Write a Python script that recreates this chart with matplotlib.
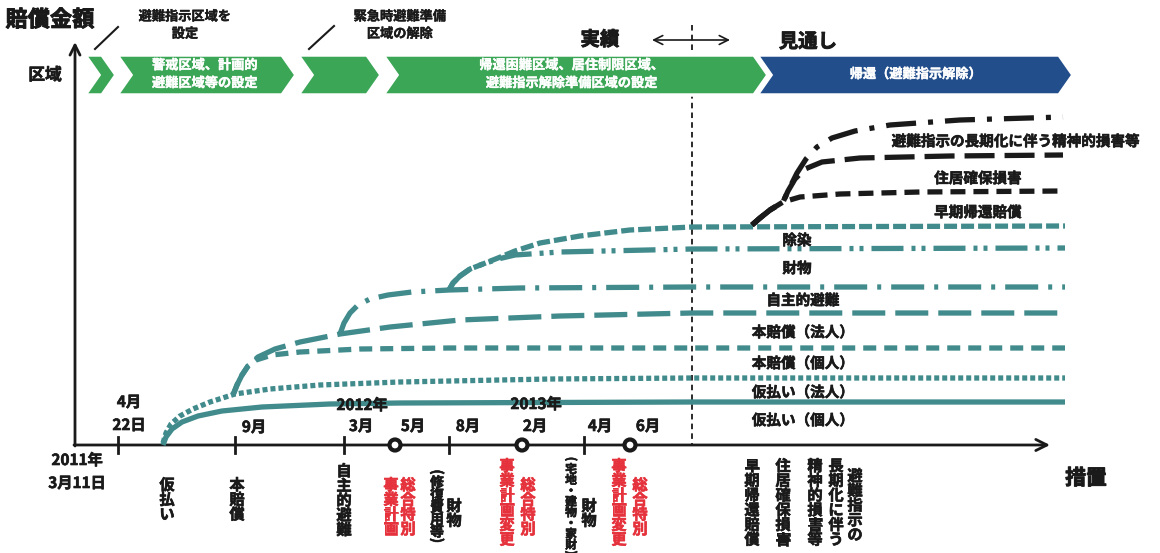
import matplotlib.pyplot as plt
import matplotlib.patheffects as pe
from matplotlib.patches import Polygon, Circle

plt.rcParams['font.family'] = ['Noto Sans CJK JP', 'DejaVu Sans']
plt.rcParams['lines.scale_dashes'] = False

TEAL = '#418b8c'
GREEN = '#3aa656'
NAVY = '#234e8c'
RED = '#e5323c'
INK = '#1a1a1a'

# ---- compensation curves (x, y in image pixels) ----
kari_kojin_x = [163, 166, 172, 182, 198, 222, 262, 330, 400, 692, 1065]
kari_kojin_y = [445, 437, 429, 422, 416, 411, 407, 404, 403, 402, 402]

kari_hojin_x = [163, 166, 171, 180, 193, 210, 235, 270, 320, 400, 550, 692, 1065]
kari_hojin_y = [443, 433, 424, 416, 409, 402, 394, 389, 385, 382, 379, 378, 378]

hon_kojin_x = [233, 237, 242, 248, 256, 272, 300, 360, 450, 692, 1065]
hon_kojin_y = [395, 385, 375, 366, 360, 355, 352, 349, 348, 348, 348]

hon_hojin_x = [233, 237, 242, 248, 258, 275, 300, 340, 390, 460, 560, 692, 1065]
hon_hojin_y = [395, 385, 375, 366, 357, 349, 342, 334, 327, 320, 316, 313, 313]

jishu_x = [340, 344, 350, 358, 370, 388, 412, 449, 520, 692, 1065]
jishu_y = [334, 323, 313, 305, 299, 295, 292, 290, 288, 287, 287]

zaibutsu_x = [449, 453, 460, 470, 483, 498, 515, 560, 692, 1065]
zaibutsu_y = [290, 283, 276, 269, 264, 259, 255, 252, 249, 248]

josen_x = [449, 453, 460, 470, 483, 498, 515, 540, 580, 630, 692, 1065]
josen_y = [290, 283, 276, 269, 264, 258, 251, 243, 236, 230, 227, 226]

soki_x = [752, 760, 770, 783, 800, 840, 920, 1063]
soki_y = [225, 218, 210, 202, 197, 194, 192, 191]

jukyo_x = [752, 760, 770, 783, 788, 795, 805, 822, 860, 950, 1063]
jukyo_y = [225, 218, 210, 202, 191, 179, 169, 162, 158, 156, 155]

seishin_x = [752, 760, 770, 783, 790, 797, 806, 817, 832, 855, 890, 960, 1063]
seishin_y = [225, 218, 210, 202, 187, 173, 159, 147, 138, 131, 125, 120, 117]

# (x, y, colour, dash pattern in px, label, label x, label y)
curves = [
    (kari_kojin_x, kari_kojin_y, TEAL, None, '仮払い（個人）', 803, 420),
    (kari_hojin_x, kari_hojin_y, TEAL, [5, 3], '仮払い（法人）', 803, 392),
    (hon_kojin_x, hon_kojin_y, TEAL, [13, 8], '本賠償（個人）', 803, 363),
    (hon_hojin_x, hon_hojin_y, TEAL, [33, 10], '本賠償（法人）', 803, 332),
    (jishu_x, jishu_y, TEAL, [33, 10, 4, 10], '自主的避難', 803, 300),
    (zaibutsu_x, zaibutsu_y, TEAL, [32, 8, 4, 6, 4, 8], '財物', 797, 268),
    (josen_x, josen_y, TEAL, [13, 4], '除染', 797, 240),
    (soki_x, soki_y, INK, [15, 8], '早期帰還賠償', 978, 212),
    (jukyo_x, jukyo_y, INK, [30, 10], '住居確保損害', 978, 178),
    (seishin_x, seishin_y, INK, [30, 12, 5, 12], '避難指示の長期化に伴う精神的損害等', 1016, 141),
]

# ---- timeline along the horizontal axis ----
tick_x = [118, 235, 344, 449, 584]
circle_x = [395, 522, 630]

date_labels = [
    ('4月', 129, 402), ('22日', 129, 425),
    ('2011年', 77, 460), ('3月11日', 77, 483),
    ('9月', 254, 427),
    ('2012年', 362, 405), ('3月', 361, 426),
    ('5月', 413, 426), ('8月', 468, 426),
    ('2013年', 536, 404), ('2月', 535, 426),
    ('4月', 600, 426), ('6月', 648, 426),
]

# vertical measure labels: (text, column x, top y, colour, font size, line spacing, bracketed)
measure_labels = [
    ('仮払い', 167, 477, INK, 11, 0.9, False),
    ('本賠償', 237, 477, INK, 11, 0.9, False),
    ('自主的避難', 344, 463, INK, 11, 0.9, False),
    ('総合特別', 408, 477, RED, 11, 0.9, False),
    ('事業計画', 391, 477, RED, 11, 0.9, False),
    ('修復費用等', 437, 468, INK, 10, 0.85, True),
    ('財物', 454, 498, INK, 11, 0.9, False),
    ('事業計画変更', 507, 458, RED, 11, 0.9, False),
    ('総合特別', 528, 477, RED, 11, 0.9, False),
    ('宅地・建物・家財', 571, 455, INK, 8.5, 0.78, True),
    ('財物', 589, 498, INK, 11, 0.9, False),
    ('事業計画変更', 619, 458, RED, 11, 0.9, False),
    ('総合特別', 640, 477, RED, 11, 0.9, False),
    ('早期帰還賠償', 752, 458, INK, 11, 0.9, False),
    ('住居確保損害', 783, 458, INK, 11, 0.9, False),
    ('精神的損害等', 815, 458, INK, 11, 0.9, False),
    ('長期化に伴う', 836, 458, INK, 11, 0.9, False),
    ('避難指示の', 855, 468, INK, 11, 0.9, False),
]

# ---- zone band (chevrons): left x, tip x, colour, text, text x ----
zones = [
    (85, 116, GREEN, '', 0),
    (117, 296, GREEN, '警戒区域、計画的\n避難区域等の設定', 205),
    (298, 381, GREEN, '', 0),
    (383, 768, GREEN, '帰還困難区域、居住制限区域、\n避難指示解除準備区域の設定', 572),
    (757, 1073, NAVY, '帰還（避難指示解除）', 916),
]


def heavy(color, w=0.45):
    return [pe.withStroke(linewidth=w, foreground=color)]


fig = plt.figure(figsize=(11.6, 5.53), dpi=100)
ax = fig.add_axes([0, 0, 1, 1])
ax.set_xlim(0, 1160)
ax.set_ylim(553, 0)
ax.axis('off')

# boundary between actual and outlook
ax.plot([692, 692], [25, 445], color=INK, lw=1.3, dashes=[4, 3], zorder=1)

# chevron band
top, bot, mid, notch = 55, 95, 75, 14
for x0, x1, col, txt, tx in zones:
    pts = [(x0, top), (x1 - notch, top), (x1, mid), (x1 - notch, bot),
           (x0, bot), (x0 + notch, mid)]
    ax.add_patch(Polygon(pts, closed=True, facecolor=col, edgecolor='white',
                         lw=2.5, zorder=3))
    if txt:
        ax.text(tx, 74, txt, color='white', fontsize=9.5, fontweight='bold',
                ha='center', va='center', linespacing=1.35, zorder=4,
                path_effects=heavy('white', 0.3))

# axes with arrows
ax.annotate('', xy=(75, 42), xytext=(75, 446),
            arrowprops=dict(arrowstyle='->', lw=2, color=INK,
                            mutation_scale=18, shrinkA=0, shrinkB=0), zorder=2)
ax.annotate('', xy=(1050, 445), xytext=(74, 445),
            arrowprops=dict(arrowstyle='->', lw=2, color=INK,
                            mutation_scale=20, shrinkA=0, shrinkB=0), zorder=2)

for tx in tick_x:
    ax.plot([tx, tx], [437, 453], color=INK, lw=2, zorder=2)
for cx in circle_x:
    ax.add_patch(Circle((cx, 445), 5.5, facecolor='white', edgecolor=INK,
                        lw=3, zorder=5))

# curves
for xs, ys, col, dash, label, lx, ly in curves:
    kw = dict(color=col, lw=3.8, solid_capstyle='butt', zorder=2)
    if dash:
        kw['dashes'] = [d * 0.72 for d in dash]
        kw['dash_capstyle'] = 'butt'
    ax.plot(xs, ys, **kw)
    ax.text(lx, ly, label, fontsize=10.5, fontweight='bold', color=INK,
            ha='center', va='center', zorder=4, path_effects=heavy(INK))

for txt, x, y in date_labels:
    ax.text(x, y, txt, fontsize=11, fontweight='bold', color=INK,
            ha='center', va='center', zorder=4, path_effects=heavy(INK))

# vertical labels; brackets are rotated to the vertical writing form
fig.canvas.draw()
renderer = fig.canvas.get_renderer()
inv = ax.transData.inverted()
for txt, x, y, col, fs, ls, bracketed in measure_labels:
    y_text = y + 8 if bracketed else y
    t = ax.text(x, y_text, '\n'.join(txt), fontsize=fs, fontweight='bold',
                color=col, ha='center', va='top', linespacing=ls, zorder=4,
                path_effects=heavy(col))
    if bracketed:
        bb = t.get_window_extent(renderer)
        y_end = inv.transform((bb.x0, bb.y0))[1]
        ax.text(x, y + 4, '(', rotation=-90, fontsize=fs, fontweight='bold',
                color=col, ha='center', va='center', path_effects=heavy(col))
        ax.text(x, y_end + 1, ')', rotation=-90, fontsize=fs, fontweight='bold',
                color=col, ha='center', va='center', path_effects=heavy(col))

# headings and notes
ax.text(50, 20, '賠償金額', fontsize=16, fontweight='bold', color=INK,
        ha='center', va='center', path_effects=heavy(INK, 0.7))
ax.text(45, 75, '区域', fontsize=12, fontweight='bold', color=INK,
        ha='center', va='center', path_effects=heavy(INK))
ax.text(1086, 478, '措置', fontsize=15, fontweight='bold', color=INK,
        ha='center', va='center', path_effects=heavy(INK, 0.7))
ax.text(185, 25, '避難指示区域を\n設定', fontsize=9.5, fontweight='bold',
        color=INK, ha='center', va='center', linespacing=1.3,
        path_effects=heavy(INK, 0.3))
ax.text(400, 25, '緊急時避難準備\n区域の解除', fontsize=9.5, fontweight='bold',
        color=INK, ha='center', va='center', linespacing=1.3,
        path_effects=heavy(INK, 0.3))
ax.plot([95, 118], [49, 27], color=INK, lw=1.5)
ax.plot([309, 334], [49, 26], color=INK, lw=1.5)
ax.text(600, 40, '実績', fontsize=14, fontweight='bold', color=INK,
        ha='center', va='center', path_effects=heavy(INK, 0.6))
ax.text(808, 42, '見通し', fontsize=14, fontweight='bold', color=INK,
        ha='center', va='center', path_effects=heavy(INK, 0.6))
ax.annotate('', xy=(652, 40), xytext=(730, 40),
            arrowprops=dict(arrowstyle='<->', lw=1.2, color=INK,
                            mutation_scale=16, shrinkA=0, shrinkB=0))

fig.savefig('out.png', dpi=100)
